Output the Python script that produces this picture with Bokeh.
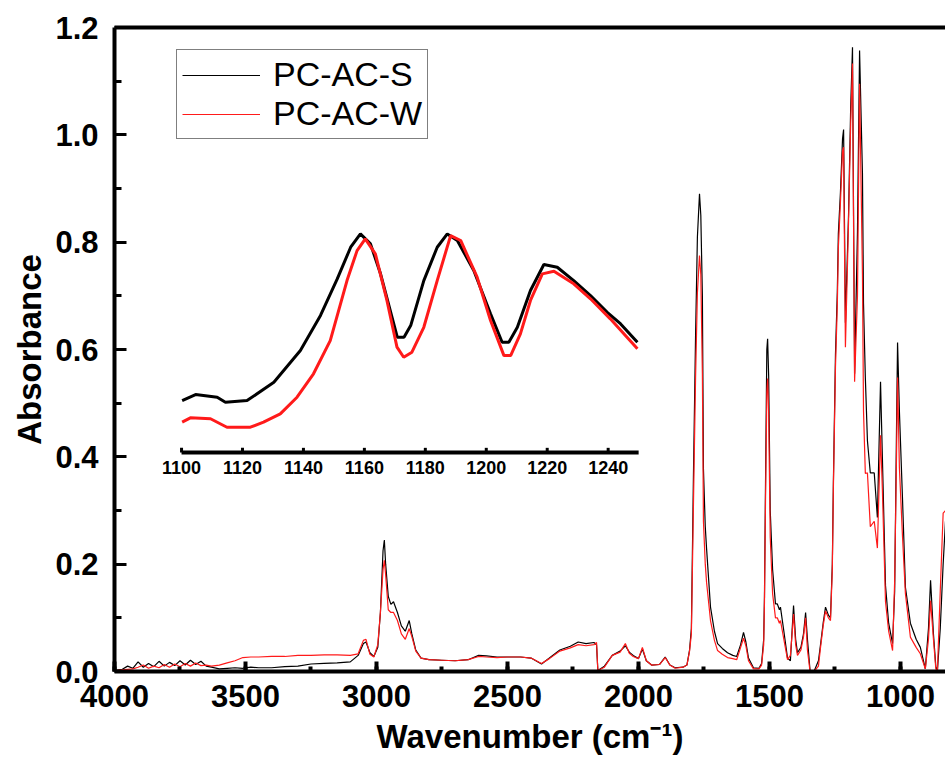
from bokeh.plotting import figure
from bokeh.models import (Range1d, LinearAxis, SingleIntervalTicker, FixedTicker,
                          PrintfTickFormatter, Legend, LegendItem, ColumnDataSource)
from bokeh.core.properties import value
from bokeh.embed import file_html
from bokeh.resources import INLINE

# ---------------- data ----------------
wavenumber = [4000, 3970, 3950, 3930, 3910, 3890, 3870, 3850, 3830, 3810, 3790, 3770, 3750,
              3730, 3710, 3690, 3670, 3650, 3630, 3600, 3570, 3540, 3510, 3480, 3450, 3400,
              3350, 3300, 3250, 3200, 3150, 3100, 3070, 3050, 3040, 3025, 3010, 2995, 2985,
              2975, 2970, 2965, 2955, 2945, 2935, 2920, 2905, 2890, 2875, 2865, 2850, 2830,
              2800, 2750, 2700, 2650, 2610, 2580, 2540, 2500, 2450, 2410, 2370, 2340, 2300,
              2260, 2230, 2200, 2170, 2160, 2155, 2130, 2100, 2070, 2050, 2035, 2020, 2000,
              1985, 1970, 1950, 1920, 1898, 1880, 1860, 1830, 1815, 1805, 1798, 1790, 1782,
              1775, 1767, 1762, 1756, 1752, 1745, 1740, 1725, 1710, 1698, 1680, 1660, 1640,
              1625, 1610, 1599, 1590, 1580, 1561, 1540, 1530, 1522, 1519, 1515, 1510, 1507,
              1503, 1497, 1488, 1477, 1470, 1462, 1458, 1445, 1431, 1420, 1412, 1408, 1400,
              1393, 1380, 1370, 1362, 1355, 1345, 1330, 1313, 1305, 1295, 1286, 1275, 1267,
              1260, 1256, 1248, 1241, 1237, 1229, 1221, 1217, 1210, 1198, 1190, 1183, 1175,
              1164, 1156, 1145, 1141, 1134, 1126, 1115, 1100, 1088, 1076, 1069, 1057, 1045,
              1030, 1022, 1015, 1011, 1004, 992, 981, 962, 940, 924, 905, 893, 885, 874, 865,
              859, 848, 837, 828]

pc_ac_s = [0.002, 0.004, 0.010, 0.006, 0.018, 0.008, 0.015, 0.009, 0.019, 0.010, 0.017, 0.011, 0.020,
           0.012, 0.021, 0.013, 0.019, 0.010, 0.008, 0.005, 0.006, 0.007, 0.006, 0.008, 0.007, 0.007,
           0.009, 0.010, 0.014, 0.015, 0.016, 0.018, 0.030, 0.052, 0.055, 0.035, 0.028, 0.045, 0.110,
           0.225, 0.245, 0.200, 0.140, 0.125, 0.130, 0.110, 0.085, 0.075, 0.095, 0.070, 0.040, 0.025,
           0.022, 0.021, 0.020, 0.022, 0.030, 0.029, 0.027, 0.027, 0.027, 0.025, 0.014, 0.025, 0.040,
           0.047, 0.055, 0.052, 0.054, 0.050, 0.002, 0.010, 0.030, 0.038, 0.048, 0.036, 0.030, 0.024,
           0.042, 0.020, 0.012, 0.013, 0.027, 0.012, 0.007, 0.008, 0.012, 0.040, 0.080, 0.370, 0.626,
           0.810, 0.890, 0.850, 0.700, 0.378, 0.270, 0.229, 0.120, 0.075, 0.052, 0.043, 0.035, 0.030,
           0.028, 0.050, 0.073, 0.055, 0.025, 0.007, 0.006, 0.015, 0.060, 0.140, 0.350, 0.600, 0.620,
           0.550, 0.300, 0.190, 0.126, 0.126, 0.115, 0.120, 0.075, 0.025, 0.020, 0.090, 0.123, 0.060,
           0.035, 0.045, 0.070, 0.110, 0.060, 0.002, 0.000, 0.020, 0.050, 0.090, 0.120, 0.105, 0.100,
           0.200, 0.350, 0.590, 0.706, 0.816, 0.893, 0.993, 1.010, 0.650, 0.853, 1.050, 1.163, 0.555,
           0.820, 1.157, 0.928, 0.686, 0.548, 0.430, 0.370, 0.370, 0.287, 0.540, 0.400, 0.160, 0.090,
           0.052, 0.150, 0.450, 0.613, 0.486, 0.320, 0.157, 0.090, 0.060, 0.045, 0.005, 0.080, 0.170,
           0.070, 0.010, 0.000, 0.080, 0.200, 0.280]

pc_ac_w = [0.001, 0.003, 0.004, 0.005, 0.008, 0.012, 0.006, 0.010, 0.007, 0.013, 0.008, 0.014, 0.009,
           0.015, 0.010, 0.016, 0.011, 0.012, 0.010, 0.012, 0.016, 0.020, 0.026, 0.027, 0.027, 0.028,
           0.028, 0.030, 0.030, 0.031, 0.031, 0.030, 0.033, 0.058, 0.060, 0.032, 0.027, 0.050, 0.110,
           0.190, 0.207, 0.180, 0.115, 0.110, 0.110, 0.095, 0.070, 0.060, 0.080, 0.065, 0.038, 0.025,
           0.022, 0.021, 0.020, 0.022, 0.028, 0.027, 0.026, 0.027, 0.027, 0.025, 0.015, 0.024, 0.038,
           0.044, 0.050, 0.048, 0.050, 0.054, 0.002, 0.008, 0.030, 0.036, 0.052, 0.034, 0.028, 0.024,
           0.045, 0.020, 0.012, 0.013, 0.026, 0.012, 0.006, 0.008, 0.012, 0.038, 0.070, 0.315, 0.548,
           0.706, 0.775, 0.740, 0.555, 0.280, 0.200, 0.166, 0.095, 0.058, 0.039, 0.032, 0.026, 0.024,
           0.022, 0.045, 0.062, 0.048, 0.020, 0.005, 0.005, 0.012, 0.050, 0.130, 0.320, 0.520, 0.546,
           0.480, 0.250, 0.145, 0.100, 0.100, 0.090, 0.095, 0.060, 0.022, 0.030, 0.080, 0.107, 0.050,
           0.030, 0.040, 0.065, 0.100, 0.040, 0.000, 0.000, 0.010, 0.045, 0.085, 0.113, 0.100, 0.095,
           0.190, 0.340, 0.567, 0.682, 0.790, 0.874, 0.970, 0.977, 0.604, 0.840, 1.020, 1.133, 0.540,
           0.700, 1.095, 0.740, 0.486, 0.369, 0.370, 0.270, 0.280, 0.230, 0.440, 0.340, 0.130, 0.075,
           0.039, 0.170, 0.400, 0.548, 0.380, 0.250, 0.145, 0.064, 0.045, 0.033, 0.005, 0.060, 0.132,
           0.060, 0.005, 0.000, 0.150, 0.295, 0.300]

# inset (1100-1250 cm-1, expanded)
inset_wn_s = [1100.2, 1104.6, 1111.7, 1114.4, 1121.5, 1130.3, 1139.0, 1145.6, 1151.1, 1155.5, 1158.7,
              1162.0, 1165.3, 1170.8, 1173.0, 1175.2, 1179.5, 1183.9, 1187.2, 1190.5, 1195.9, 1201.4,
              1205.2, 1207.4, 1210.2, 1214.5, 1218.9, 1223.3, 1228.7, 1234.2, 1239.7, 1244.1, 1249.6]
inset_s = [0.277, 0.309, 0.295, 0.268, 0.277, 0.375, 0.544, 0.731, 0.926, 1.095, 1.166,
           1.113, 0.953, 0.615, 0.615, 0.677, 0.917, 1.095, 1.166, 1.131, 0.971, 0.740,
           0.588, 0.588, 0.668, 0.864, 1.003, 0.988, 0.917, 0.837, 0.748, 0.686, 0.588]
inset_wn_w = [1100.2, 1102.9, 1109.5, 1114.9, 1122.6, 1126.9, 1132.4, 1137.9, 1143.3, 1148.8, 1154.3,
              1157.6, 1160.3, 1163.6, 1167.4, 1170.7, 1172.9, 1175.6, 1179.5, 1183.9, 1188.3, 1191.6,
              1197.0, 1201.4, 1205.8, 1208.0, 1211.2, 1214.5, 1218.4, 1222.2, 1228.7, 1234.2, 1240.7,
              1249.6]
inset_w = [0.162, 0.185, 0.180, 0.135, 0.135, 0.162, 0.206, 0.295, 0.420, 0.597, 0.917,
           1.077, 1.140, 1.060, 0.811, 0.562, 0.508, 0.535, 0.668, 0.917, 1.157, 1.131,
           0.935, 0.704, 0.517, 0.517, 0.633, 0.811, 0.953, 0.967, 0.900, 0.820, 0.713,
           0.553]
inset_ticks = [1100, 1120, 1140, 1160, 1180, 1200, 1220, 1240]
inset_tick_labels = [str(t) for t in inset_ticks]
inset_axis_x = [1100, 1250]
inset_axis_y = [0, 0]

y_major_ticks = [0.0, 0.2, 0.4, 0.6, 0.8, 1.0, 1.2]
y_minor_ticks = [0.1, 0.3, 0.5, 0.7, 0.9, 1.1]

# ---------------- style constants ----------------
FONT = "Liberation Sans"
BLACK = "#000000"
RED = "#ff1a1a"
INSET_TICK_LEN = 0.025

p = figure(width=945, height=759, output_backend="svg", toolbar_location=None,
           x_range=Range1d(4000, 828), y_range=Range1d(0, 1.2),
           min_border_left=114, min_border_right=0, min_border_top=27, min_border_bottom=88)
p.outline_line_color = None
p.xgrid.visible = False
p.ygrid.visible = False
p.background_fill_color = "white"
p.border_fill_color = "white"

p.extra_x_ranges = {"inset": Range1d(1078.0, 1350.7)}
p.extra_y_ranges = {"inset": Range1d(-1.168, 2.267)}

# axes
xa = p.xaxis[0]
xa.ticker = SingleIntervalTicker(interval=500, num_minor_ticks=2)
xa.axis_label = "Wavenumber (cm\u207b\u00b9)"
ya = p.yaxis[0]
ya.ticker = FixedTicker(ticks=y_major_ticks, minor_ticks=y_minor_ticks)
ya.formatter = PrintfTickFormatter(format="%.1f")
ya.axis_label = "Absorbance"
for ax in (xa, ya):
    ax.axis_line_width = 4
    ax.axis_line_color = BLACK
    ax.major_tick_out = 0
    ax.minor_tick_out = 0
    ax.major_tick_line_color = BLACK
    ax.minor_tick_line_color = BLACK
    ax.major_label_text_font = FONT
    ax.major_label_text_font_style = "bold"
    ax.major_label_text_font_size = "31px"
    ax.major_label_text_color = BLACK
    ax.axis_label_text_font = FONT
    ax.axis_label_text_font_style = "bold"
    ax.axis_label_text_font_size = "33px"
    ax.axis_label_text_color = BLACK
xa.major_tick_in = 10
xa.minor_tick_in = 5
xa.major_tick_line_width = 4
xa.minor_tick_line_width = 4
xa.major_label_standoff = 13
xa.axis_label_standoff = 8
ya.major_tick_in = 12
ya.minor_tick_in = 7
ya.major_tick_line_width = 3
ya.minor_tick_line_width = 3
ya.major_label_standoff = 16
ya.axis_label_standoff = 4

top = LinearAxis(ticker=FixedTicker(ticks=[]), axis_line_width=4, axis_line_color=BLACK,
                 major_tick_line_color=None, minor_tick_line_color=None)
p.add_layout(top, "above")

# main spectra
r_s = p.line(wavenumber, pc_ac_s, line_color=BLACK, line_width=1.2)
r_w = p.line(wavenumber, pc_ac_w, line_color=RED, line_width=1.2)

# inset spectra
p.line(inset_wn_s, inset_s, line_color=BLACK, line_width=3,
       x_range_name="inset", y_range_name="inset")
p.line(inset_wn_w, inset_w, line_color=RED, line_width=3,
       x_range_name="inset", y_range_name="inset")

# inset axis
p.line(inset_axis_x, inset_axis_y, line_color=BLACK, line_width=4,
       x_range_name="inset", y_range_name="inset")
tick_src = ColumnDataSource(dict(x=inset_ticks, y0=[0] * len(inset_ticks),
                                 y1=[INSET_TICK_LEN] * len(inset_ticks),
                                 label=inset_tick_labels))
p.segment(x0="x", y0="y0", x1="x", y1="y1", source=tick_src, line_color=BLACK,
          line_width=3, x_range_name="inset", y_range_name="inset")
p.text(x="x", y="y0", text="label", source=tick_src, text_font=value(FONT),
       text_font_style="bold", text_font_size="18px", text_align="center",
       text_baseline="top", y_offset=8, text_color=BLACK,
       x_range_name="inset", y_range_name="inset")

legend = Legend(items=[LegendItem(label="PC-AC-S", renderers=[r_s]),
                       LegendItem(label="PC-AC-W", renderers=[r_w])],
                location=(62, 532), border_line_color=BLACK, border_line_width=1.5,
                background_fill_alpha=1.0, padding=5, spacing=0, margin=0,
                glyph_width=78, glyph_height=36, label_height=36, label_standoff=13,
                label_text_font=FONT, label_text_font_size="34px", label_text_color=BLACK)
p.add_layout(legend)

open("out.html", "w").write(file_html(p, INLINE))
